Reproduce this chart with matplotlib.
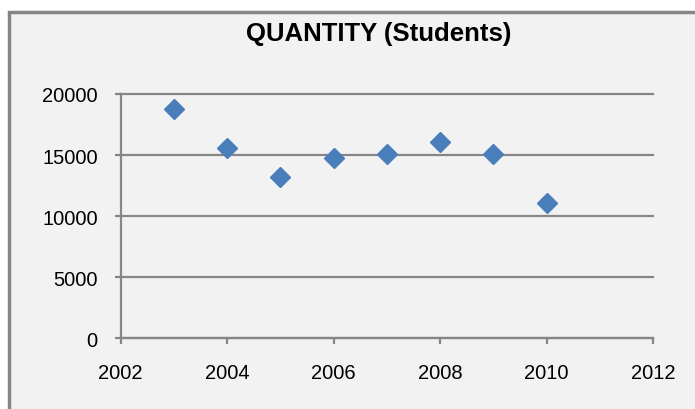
import matplotlib.pyplot as plt
from matplotlib.patches import Rectangle

# data
years = [2003, 2004, 2005, 2006, 2007, 2008, 2009, 2010]
students = [18800, 15600, 13200, 14800, 15100, 16100, 15100, 11100]
x_ticks = [2002, 2004, 2006, 2008, 2010, 2012]
y_ticks = [0, 5000, 10000, 15000, 20000]

plt.rcParams['font.family'] = ['Liberation Sans', 'DejaVu Sans']
grey = '#868686'

fig = plt.figure(figsize=(6.95, 4.10), dpi=100)
fig.patch.set_facecolor('white')

# chart area frame (Excel style), runs off the right and bottom edge
fig.patches.append(Rectangle((9 / 695, -0.05), 1.1, 1 - 13 / 410 + 0.05,
                             transform=fig.transFigure, facecolor='#F2F2F2',
                             edgecolor=grey, linewidth=2.5, zorder=-5))

ax = fig.add_axes([120.6 / 695, 1 - 339.3 / 410, (653 - 120.6) / 695, (339.3 - 95) / 410])
ax.set_facecolor('none')

ax.plot(years, students, 'D', ms=10.4, color='#4A7EBB', mec='#4A7EBB', zorder=3,
        clip_on=False)

ax.set_xlim(2002, 2012)
ax.set_ylim(0, 20000)
ax.set_xticks(x_ticks)
ax.set_yticks(y_ticks)
ax.yaxis.grid(True, color=grey, linewidth=1.6)
ax.set_axisbelow(True)
# keep the top gridline at full width
for gl in ax.get_ygridlines():
    gl.set_clip_on(False)

for s in ['top', 'right']:
    ax.spines[s].set_visible(False)
for s in ['left', 'bottom']:
    ax.spines[s].set_color(grey)
    ax.spines[s].set_linewidth(1.6)

ax.tick_params(axis='y', length=4.5, width=1.6, color=grey, pad=12, labelsize=14.5)
ax.tick_params(axis='x', length=4.5, width=1.6, color=grey, pad=13, labelsize=14.5)

fig.text(378.5 / 695, 1 - 34 / 410, 'QUANTITY (Students)', ha='center', va='center',
         fontsize=18.5, fontweight='bold')

fig.savefig('out.png', dpi=100)
